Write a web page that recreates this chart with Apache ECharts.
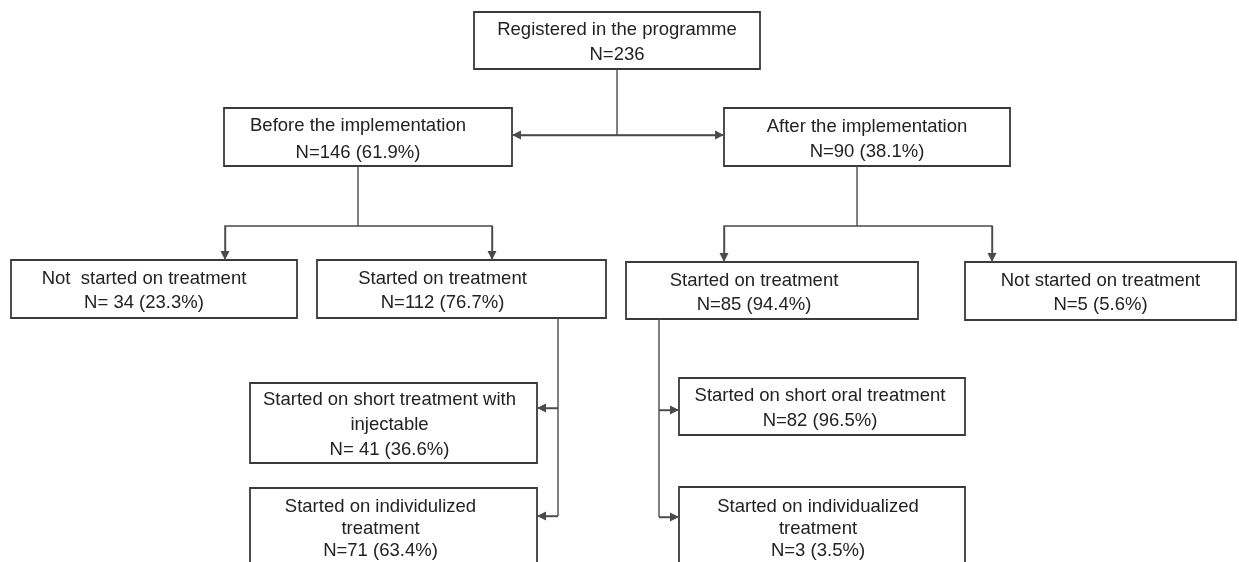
<!DOCTYPE html>
<html>
<head>
<meta charset="utf-8">
<script src="https://cdn.jsdelivr.net/npm/echarts@6/dist/echarts.min.js"></script>
<style>
  html, body { margin: 0; padding: 0; background: #fff; }
  #myChart { width: 1239px; height: 562px; }
</style>
</head>
<body>
<div id="myChart"></div>
<script>
// flowchart content
const nodeTitles = [
  'Registered in the programme',
  'Before the implementation',
  'After the implementation',
  'Not  started on treatment',
  'Started on treatment',
  'Started on treatment',
  'Not started on treatment',
  'Started on short treatment with\ninjectable',
  'Started on individulized\ntreatment',
  'Started on short oral treatment',
  'Started on individualized\ntreatment'
];
const nodeCounts = [
  'N=236',
  'N=146 (61.9%)',
  'N=90 (38.1%)',
  'N= 34 (23.3%)',
  'N=112 (76.7%)',
  'N=85 (94.4%)',
  'N=5 (5.6%)',
  'N= 41 (36.6%)',
  'N=71 (63.4%)',
  'N=82 (96.5%)',
  'N=3 (3.5%)'
];

// layout (page pixels): [x0, y0, x1, y1, text dx, line height]
const boxLayout = [
  [474, 12, 760, 69, 0, 25],
  [224, 108, 512, 166, -10, 27],
  [724, 108, 1010, 166, 0, 25],
  [11, 260, 297, 318, -10, 24],
  [317, 260, 606, 318, -19, 24],
  [626, 262, 918, 319, -18, 24],
  [965, 262, 1236, 320, 0, 24],
  [250, 383, 537, 463, -4, 25],
  [250, 488, 537, 566, -13, 22],
  [679, 378, 965, 435, -2, 25],
  [679, 487, 965, 566, -4, 22]
];

// connectors: plain segments and arrowed ones
const plainLinks = [
  [[617, 69], [617, 135]],
  [[358, 166], [358, 226]],
  [[857, 166], [857, 226]],
  [[558, 318], [558, 516]],
  [[659, 319], [659, 517]]
];
const arrowLinks = [
  [[617, 135], [512, 135]],
  [[617, 135], [724, 135]],
  [[358, 226], [225, 226], [225, 260]],
  [[358, 226], [492, 226], [492, 260]],
  [[857, 226], [724, 226], [724, 262]],
  [[857, 226], [992, 226], [992, 262]],
  [[558, 408], [537, 408]],
  [[558, 516], [537, 516]],
  [[659, 410], [679, 410]],
  [[659, 517], [679, 517]]
];

const headLen = 9;

let myChart = echarts.init(document.getElementById('myChart'));

const boxData = boxLayout.map((b, i) => [b[0], b[1], b[2], b[3], i]);
// polylines can't carry symbols, so the arrow head rides on the last segment,
// pulled back half a head so the tip meets the box edge
const pathData = plainLinks.concat(arrowLinks).map(c => ({ coords: c }));
const headData = arrowLinks.map(c => {
  const a = c[c.length - 2], b = c[c.length - 1];
  const dx = b[0] - a[0], dy = b[1] - a[1];
  const len = Math.sqrt(dx * dx + dy * dy);
  const end = [b[0] - dx / len * headLen / 2, b[1] - dy / len * headLen / 2];
  return { coords: [a, end] };
});

myChart.setOption({
  animation: false,
  grid: { left: 0, right: 0, top: 0, bottom: 0 },
  xAxis: { type: 'value', min: 0, max: 1239, show: false },
  yAxis: { type: 'value', min: 0, max: 562, inverse: true, show: false },
  series: [
    {
      type: 'custom',
      coordinateSystem: 'cartesian2d',
      clip: false,
      data: boxData,
      renderItem: function (params, api) {
        const i = api.value(4);
        const p0 = api.coord([api.value(0), api.value(1)]);
        const p1 = api.coord([api.value(2), api.value(3)]);
        const lay = boxLayout[i];
        return {
          type: 'group',
          children: [
            {
              type: 'rect',
              shape: { x: p0[0], y: p0[1], width: p1[0] - p0[0], height: p1[1] - p0[1] },
              style: { fill: '#fff', stroke: '#3a3a3a', lineWidth: 1.8 }
            },
            {
              type: 'text',
              style: {
                text: nodeTitles[i] + '\n' + nodeCounts[i],
                x: (p0[0] + p1[0]) / 2 + lay[4],
                y: (p0[1] + p1[1]) / 2 + 2,
                align: 'center',
                verticalAlign: 'middle',
                fontSize: 18.5,
                fontFamily: '"Liberation Sans", Arial, sans-serif',
                lineHeight: lay[5],
                fill: '#222'
              }
            }
          ]
        };
      },
      z: 1
    },
    {
      type: 'lines',
      coordinateSystem: 'cartesian2d',
      polyline: true,
      lineStyle: { color: '#4a4a4a', width: 1.4, opacity: 1 },
      data: pathData,
      z: 2
    },
    {
      type: 'lines',
      coordinateSystem: 'cartesian2d',
      polyline: false,
      symbol: ['none', 'triangle'],
      symbolSize: [10, headLen],
      lineStyle: { color: '#4a4a4a', width: 1.4, opacity: 1 },
      itemStyle: { color: '#1e1e1e' },
      data: headData,
      z: 3
    }
  ]
});
</script>
</body>
</html>
